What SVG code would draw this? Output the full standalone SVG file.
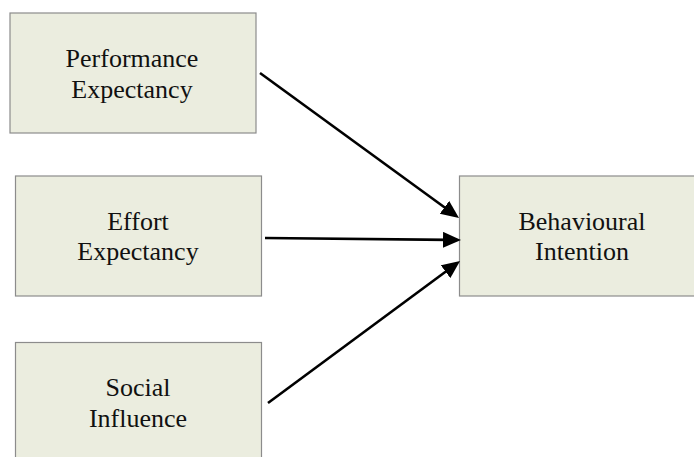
<svg xmlns="http://www.w3.org/2000/svg" width="694" height="457" viewBox="0 0 694 457">
  <style>
    .box { fill: #ebeddf; stroke: #8c8c8c; stroke-width: 1.2; }
    .label { font-family: "Liberation Serif", "Times New Roman", serif; font-size: 26px; fill: #111111; text-anchor: middle; }
    .edge { stroke: #000000; stroke-width: 2.6; fill: none; marker-end: url(#arrow); }
  </style>
  <defs>
    <marker id="arrow" markerUnits="userSpaceOnUse" markerWidth="19" markerHeight="17" refX="5" refY="8" orient="auto">
      <path d="M0,0 L18,8 L0,16 Z" fill="#000000"/>
    </marker>
  </defs>

  <rect width="694" height="457" fill="#ffffff"/>

  <g id="performance-expectancy">
    <rect class="box" x="10" y="13" width="246" height="120"/>
    <text class="label" x="132" y="67">Performance</text>
    <text class="label" x="132" y="98">Expectancy</text>
  </g>

  <g id="effort-expectancy">
    <rect class="box" x="15.5" y="176" width="246" height="120"/>
    <text class="label" x="138" y="230">Effort</text>
    <text class="label" x="138" y="260">Expectancy</text>
  </g>

  <g id="social-influence">
    <rect class="box" x="15.5" y="342.5" width="246" height="130"/>
    <text class="label" x="138" y="396">Social</text>
    <text class="label" x="138" y="427">Influence</text>
  </g>

  <g id="behavioural-intention">
    <rect class="box" x="459.5" y="176" width="246" height="120"/>
    <text class="label" x="582" y="230">Behavioural</text>
    <text class="label" x="582" y="260">Intention</text>
  </g>

  <g id="connectors">
    <line class="edge" x1="260" y1="73" x2="448.5" y2="210.3"/>
    <line class="edge" x1="265" y1="238" x2="448" y2="239.9"/>
    <line class="edge" x1="268" y1="403" x2="449.6" y2="268.7"/>
  </g>
</svg>
